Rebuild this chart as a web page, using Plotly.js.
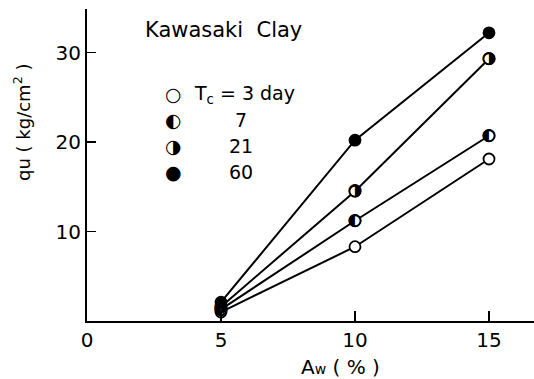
<!DOCTYPE html>
<html>
<head>
<meta charset="utf-8">
<script src="https://cdn.plot.ly/plotly-3.0.1.min.js"></script>
<style>html,body{margin:0;padding:0;background:#fff;}#chart{width:534px;height:379px;}</style>
</head>
<body>
<div id="chart"></div>
<script>
// Data
const aw = [5, 10, 15];                 // Aw (%)
const qu3day = [1.0, 8.3, 18.1];        // Tc = 3 day (open circle)
const qu7day = [1.3, 11.2, 20.7];       // Tc = 7 (left half black)
const qu21day = [1.6, 14.5, 29.3];      // Tc = 21 (right half black)
const qu60day = [2.1, 20.2, 32.2];      // Tc = 60 (filled)
const xTickVals = [0, 5, 10, 15];
const xTickText = ['0', '5', '10', '15'];
const yTickVals = [10, 20, 30];
const yTickText = ['10', '20', '30'];
const legendLabels = ['T<sub>c</sub> = 3 day', '7', '21', '60'];

const FONT = 'DejaVu Sans, sans-serif';
const lineStyle = {color: '#000', width: 2};

function lineTrace(y) {
  return {x: aw, y: y, mode: 'lines', line: lineStyle, hoverinfo: 'skip', showlegend: false};
}
function outlineTrace(y, fill) {
  return {x: aw, y: y, mode: 'markers', marker: {symbol: 'circle', size: 11, color: fill, line: {color: '#000', width: 1.8}},
          showlegend: false, hoverinfo: 'skip'};
}
function glyphTrace(y, glyph) {
  return {x: aw, y: y, mode: 'text', text: aw.map(() => glyph), textposition: 'middle center',
          textfont: {family: FONT, size: 17, color: '#000'}, showlegend: false, hoverinfo: 'skip'};
}

const traces = [
  lineTrace(qu3day), lineTrace(qu7day), lineTrace(qu21day), lineTrace(qu60day),
  outlineTrace(qu3day, '#fff'),
  outlineTrace(qu7day, '#fff'),
  outlineTrace(qu21day, '#fff'),
  glyphTrace(qu7day, '\u25D0'),
  glyphTrace(qu21day, '\u25D1'),
  outlineTrace(qu60day, '#000')
];

const L = 87, R = 534, T = 9, B = 321;
const px = v => (v - L) / (R - L);
const py = v => (B - v) / (B - T);

const glyphs = ['\u25CB', '\u25D0', '\u25D1', '\u25CF'];
const legY = [94, 120, 146, 172];
const annotations = [
  {xref: 'paper', yref: 'paper', x: px(143), y: py(30), xanchor: 'left', yanchor: 'middle', showarrow: false,
   text: 'Kawasaki&nbsp; Clay', font: {family: FONT, size: 21, color: '#000'}},
  {xref: 'paper', yref: 'paper', x: px(22), y: py(123), xanchor: 'center', yanchor: 'middle', showarrow: false,
   textangle: -90, text: 'qu ( kg/cm<sup>2</sup> )', font: {family: FONT, size: 18, color: '#000'}},
  {xref: 'paper', yref: 'paper', x: px(340), y: py(367), xanchor: 'center', yanchor: 'middle', showarrow: false,
   text: 'A<span style="font-size:14px">w</span> ( % )', font: {family: FONT, size: 20, color: '#000'}}
];
legendLabels.forEach((lab, i) => {
  annotations.push({xref: 'paper', yref: 'paper', x: px(173), y: py(legY[i]), xanchor: 'center', yanchor: 'middle',
    showarrow: false, text: glyphs[i], font: {family: FONT, size: 19, color: '#000'}});
  annotations.push({xref: 'paper', yref: 'paper', x: i === 0 ? px(192) : px(241), y: py(legY[i]),
    xanchor: i === 0 ? 'left' : 'center', yanchor: 'middle', showarrow: false, text: lab,
    font: {family: FONT, size: 19, color: '#000'}});
});

const layout = {
  width: 534, height: 379,
  margin: {l: L, r: 534 - R, t: T, b: 379 - B, pad: 0},
  paper_bgcolor: '#fff', plot_bgcolor: '#fff',
  showlegend: false,
  font: {family: FONT, color: '#000'},
  xaxis: {range: [0, (R - L) / 26.8], tickvals: xTickVals, ticktext: xTickText, ticks: 'inside', ticklen: 10,
          tickwidth: 1.5, tickcolor: '#000', showline: true, linecolor: '#000', linewidth: 2, showgrid: false,
          zeroline: false, tickfont: {family: FONT, size: 20, color: '#000'}, fixedrange: true},
  yaxis: {range: [0, (B - T) / 8.95], tickvals: yTickVals, ticktext: yTickText, ticks: 'inside', ticklen: 9,
          tickwidth: 1.5, tickcolor: '#000', showline: true, linecolor: '#000', linewidth: 2, showgrid: false,
          zeroline: false, tickfont: {family: FONT, size: 20, color: '#000'}, fixedrange: true},
  annotations: annotations
};

Plotly.newPlot('chart', traces, layout, {staticPlot: true, displayModeBar: false});
</script>
</body>
</html>
